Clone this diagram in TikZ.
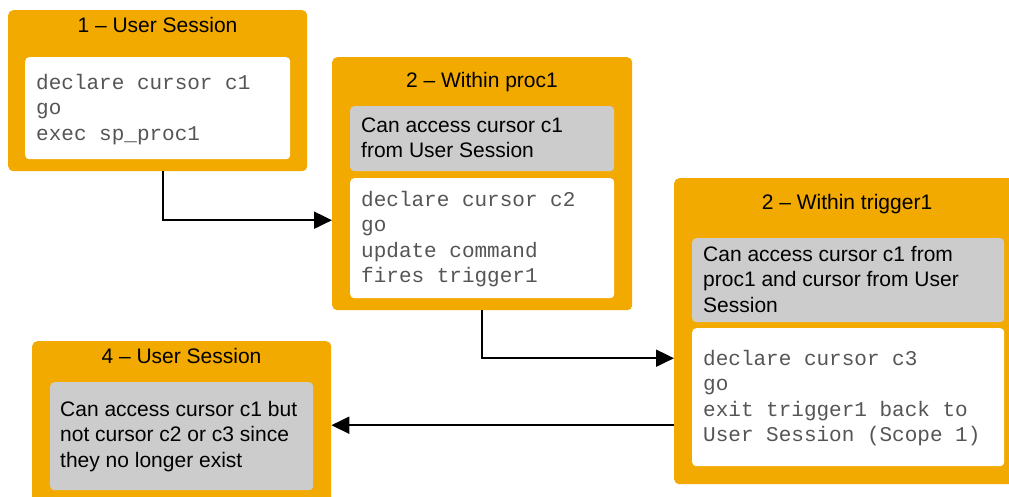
\documentclass[tikz,border=0pt]{standalone}
\usepackage{fontspec}
\setmainfont{Liberation Sans}
\setmonofont{Liberation Mono}
\usetikzlibrary{arrows.meta}
\definecolor{scopeorange}{RGB}{242,170,0}
\definecolor{notegray}{RGB}{204,204,204}
\definecolor{codegray}{RGB}{85,85,85}
\begin{document}
\begin{tikzpicture}[x=1pt,y=-1pt,
  scopebox/.style={fill=scopeorange, rounded corners=5pt, inner sep=0pt, anchor=north west},
  notebox/.style={fill=notegray, rounded corners=4pt, inner sep=0pt, anchor=north west},
  codebox/.style={fill=white, rounded corners=4pt, inner sep=0pt, anchor=north west},
  title/.style={font=\fontsize{21}{25}\selectfont, anchor=base, inner sep=0pt},
  notetext/.style={font=\fontsize{21}{25.5}\selectfont, anchor=base west, inner sep=0pt, text width=310pt, align=flush left},
  codetext/.style={font=\fontsize{21}{25.6}\selectfont\ttfamily, text=codegray, anchor=base west, inner sep=0pt, text width=310pt, align=flush left},
  flow/.style={line width=2pt, -{Triangle[length=18pt,width=17pt]}}
]
\clip (0,0) rectangle (1009,496);

% scope 1: the user session
\node[scopebox, minimum width=299pt, minimum height=161pt] (b1) at (8,10) {};
\node[title] (t1) at (157.5,32) {1 – User Session};
\node[codebox, minimum width=265pt, minimum height=102pt] (w1) at (25,57) {};
\node[codetext] (c1) at (36,89) {declare cursor c1\\go\\exec sp\_proc1};

% scope 2: inside the procedure
\node[scopebox, minimum width=300pt, minimum height=253pt] (b2) at (332,57) {};
\node[title] (t2) at (482,87) {2 – Within proc1};
\node[notebox, minimum width=264pt, minimum height=65pt] (g2) at (350,106) {};
\node[notetext] (n2) at (361,132) {Can access cursor c1\\from User Session};
\node[codebox, minimum width=264pt, minimum height=120pt] (w2) at (350,178) {};
\node[codetext] (c2) at (361,206) {declare cursor c2\\go\\update command\\fires trigger1};

% scope 3: inside the trigger
\node[scopebox, minimum width=346pt, minimum height=306pt] (b3) at (674,178) {};
\node[title] (t3) at (847,209) {2 – Within trigger1};
\node[notebox, minimum width=312pt, minimum height=84pt] (g3) at (692,238) {};
\node[notetext] (n3) at (703,261) {Can access cursor c1 from\\proc1 and cursor from User\\Session};
\node[codebox, minimum width=312pt, minimum height=138pt] (w3) at (692,328) {};
\node[codetext] (c3) at (703,365) {declare cursor c3\\go\\exit trigger1 back to\\User Session (Scope 1)};

% scope 4: back in the user session
\node[scopebox, minimum width=299pt, minimum height=180pt] (b4) at (32,341) {};
\node[title] (t4) at (181.5,363) {4 – User Session};
\node[notebox, minimum width=263pt, minimum height=108pt] (g4) at (50,382) {};
\node[notetext] (n4) at (60,416) {Can access cursor c1 but\\not cursor c2 or c3 since\\they no longer exist};

% control flow between the scopes
\draw[flow] ([xshift=5.5pt]b1.south) |- ([yshift=-36.5pt]b2.west);
\draw[flow] (b2.south) |- ([yshift=-27pt]b3.west);
\draw[flow] ([yshift=-94pt]b3.west) coordinate (e3) -- (e3 -| b4.east);
\end{tikzpicture}
\end{document}
